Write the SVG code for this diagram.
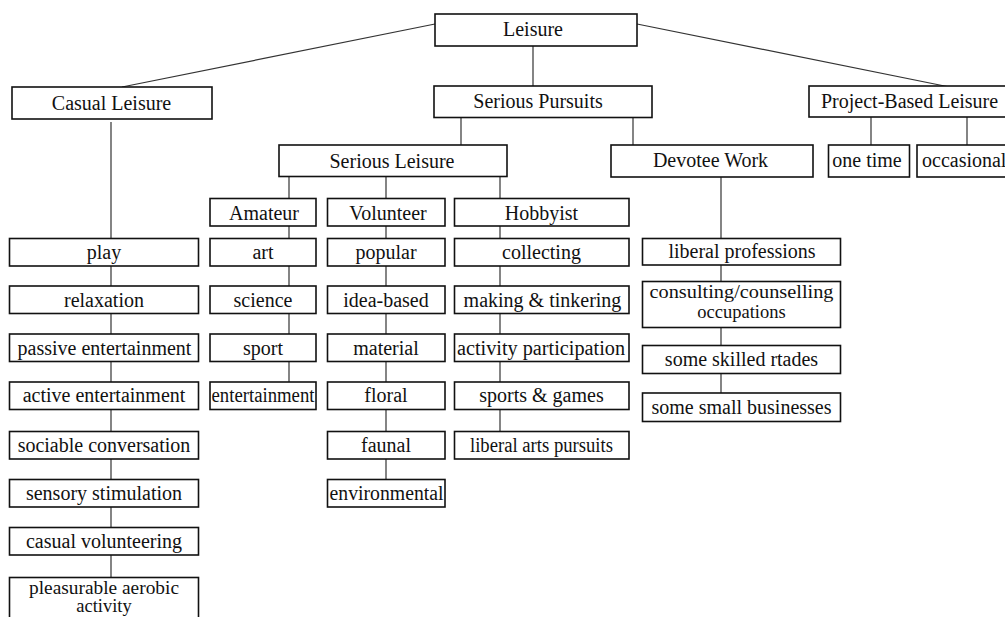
<svg xmlns="http://www.w3.org/2000/svg" width="1005" height="617" viewBox="0 0 1005 617">
<style>
.box{fill:#fff;stroke:#111;stroke-width:1.6}
.ln{stroke:#333;stroke-width:1.2;fill:none}
.t{font-family:"Liberation Serif","Times New Roman",serif;font-size:20px;fill:#111;text-anchor:middle}
.s{text-anchor:start}
.m{font-size:18.5px}
</style>
<rect width="1005" height="617" fill="#fff"/>
<g id="connectors">
<line class="ln" x1="435" y1="24" x2="122" y2="87"/>
<line class="ln" x1="637" y1="24" x2="947" y2="86.5"/>
<line class="ln" x1="533" y1="46" x2="533" y2="86"/>
<line class="ln" x1="461" y1="118" x2="461" y2="145"/>
<line class="ln" x1="633" y1="118" x2="633" y2="145"/>
<line class="ln" x1="871" y1="117" x2="871" y2="145"/>
<line class="ln" x1="967" y1="117" x2="967" y2="145"/>
<line class="ln" x1="289" y1="177" x2="289" y2="198"/>
<line class="ln" x1="386" y1="177" x2="386" y2="198"/>
<line class="ln" x1="500" y1="177" x2="500" y2="198"/>
<line class="ln" x1="111" y1="122" x2="111" y2="578"/>
<line class="ln" x1="289" y1="226" x2="289" y2="382"/>
<line class="ln" x1="386" y1="226" x2="386" y2="480"/>
<line class="ln" x1="500" y1="226" x2="500" y2="432"/>
<line class="ln" x1="721" y1="177" x2="721" y2="239"/>
<line class="ln" x1="721" y1="265" x2="721" y2="393"/>
</g>
<g id="n-leisure"><rect class="box" x="435" y="14" width="202" height="32"/><text class="t" x="533" y="36">Leisure</text></g>
<g id="n-casual"><rect class="box" x="12" y="87" width="200" height="32"/><text class="t" x="111.5" y="110">Casual Leisure</text></g>
<g id="n-serious-pursuits"><rect class="box" x="434" y="86" width="218" height="31.5"/><text class="t" x="538" y="107.5">Serious Pursuits</text></g>
<g id="n-project"><rect class="box" x="809" y="86" width="210" height="31"/><text class="t s" x="821" y="108">Project-Based Leisure</text></g>
<g id="n-serious-leisure"><rect class="box" x="279" y="145" width="228" height="31.5"/><text class="t" x="392" y="168">Serious Leisure</text></g>
<g id="n-devotee"><rect class="box" x="611" y="145" width="202" height="32"/><text class="t" x="710.5" y="167">Devotee Work</text></g>
<g id="n-onetime"><rect class="box" x="828.5" y="145" width="81" height="32"/><text class="t" x="867" y="167">one time</text></g>
<g id="n-occasional"><rect class="box" x="917" y="145" width="100" height="32"/><text class="t s" x="922" y="167">occasional</text></g>

<g id="n-amateur"><rect class="box" x="210" y="198.5" width="106" height="27.5"/><text class="t" x="264" y="219.5">Amateur</text></g>
<g id="n-art"><rect class="box" x="210" y="238.5" width="106" height="27.5"/><text class="t" x="263" y="259">art</text></g>
<g id="n-science"><rect class="box" x="210" y="286" width="106" height="27.5"/><text class="t" x="263" y="306.5">science</text></g>
<g id="n-sport"><rect class="box" x="210" y="334" width="106" height="27.5"/><text class="t" x="263" y="354.5">sport</text></g>
<g id="n-am-entertainment"><rect class="box" x="210" y="382" width="106" height="27.5"/><text class="t" x="263" y="402" textLength="103" lengthAdjust="spacingAndGlyphs">entertainment</text></g>

<g id="n-volunteer"><rect class="box" x="327.5" y="198.5" width="117.5" height="27.5"/><text class="t" x="388" y="219.5">Volunteer</text></g>
<g id="n-popular"><rect class="box" x="327.5" y="238.5" width="117.5" height="27.5"/><text class="t" x="386" y="259">popular</text></g>
<g id="n-idea"><rect class="box" x="327.5" y="286" width="117.5" height="27.5"/><text class="t" x="386" y="306.5">idea-based</text></g>
<g id="n-material"><rect class="box" x="327.5" y="334" width="117.5" height="27.5"/><text class="t" x="386" y="354.5">material</text></g>
<g id="n-floral"><rect class="box" x="327.5" y="382" width="117.5" height="27.5"/><text class="t" x="386" y="402">floral</text></g>
<g id="n-faunal"><rect class="box" x="327.5" y="431.5" width="117.5" height="27.5"/><text class="t" x="386" y="452">faunal</text></g>
<g id="n-environmental"><rect class="box" x="327.5" y="479.5" width="117.5" height="27.5"/><text class="t" x="386.5" y="500" textLength="114" lengthAdjust="spacingAndGlyphs">environmental</text></g>

<g id="n-hobbyist"><rect class="box" x="454.5" y="198.5" width="174.5" height="27.5"/><text class="t" x="541.5" y="219.5">Hobbyist</text></g>
<g id="n-collecting"><rect class="box" x="454.5" y="238.5" width="174.5" height="27.5"/><text class="t" x="541.5" y="259">collecting</text></g>
<g id="n-making"><rect class="box" x="454.5" y="286" width="174.5" height="27.5"/><text class="t" x="542.5" y="306.5">making &amp; tinkering</text></g>
<g id="n-activity"><rect class="box" x="454.5" y="334" width="174.5" height="27.5"/><text class="t" x="541" y="354.5" textLength="168" lengthAdjust="spacingAndGlyphs">activity participation</text></g>
<g id="n-sports"><rect class="box" x="454.5" y="382" width="174.5" height="27.5"/><text class="t" x="541.5" y="402">sports &amp; games</text></g>
<g id="n-liberal-arts"><rect class="box" x="454.5" y="431.5" width="174.5" height="27.5"/><text class="t" x="541.5" y="452" textLength="143" lengthAdjust="spacingAndGlyphs">liberal arts pursuits</text></g>

<g id="n-play"><rect class="box" x="9.5" y="238.5" width="189" height="27.5"/><text class="t" x="104" y="259">play</text></g>
<g id="n-relaxation"><rect class="box" x="9.5" y="286" width="189" height="27.5"/><text class="t" x="104" y="306.5">relaxation</text></g>
<g id="n-passive"><rect class="box" x="9.5" y="334" width="189" height="27.5"/><text class="t" x="104.5" y="354.5">passive entertainment</text></g>
<g id="n-active"><rect class="box" x="9.5" y="382" width="189" height="27.5"/><text class="t" x="104" y="402">active entertainment</text></g>
<g id="n-sociable"><rect class="box" x="9.5" y="431.5" width="189" height="27.5"/><text class="t" x="104" y="452">sociable conversation</text></g>
<g id="n-sensory"><rect class="box" x="9.5" y="479.5" width="189" height="27.5"/><text class="t" x="104" y="500">sensory stimulation</text></g>
<g id="n-casual-vol"><rect class="box" x="9.5" y="527.5" width="189" height="27.5"/><text class="t" x="104" y="548">casual volunteering</text></g>
<g id="n-aerobic"><rect class="box" x="9.5" y="577.5" width="189" height="60"/><text class="t m" x="104" y="594" textLength="150" lengthAdjust="spacingAndGlyphs">pleasurable aerobic</text><text class="t m" x="104" y="612">activity</text></g>

<g id="n-liberal-prof"><rect class="box" x="642.5" y="238.5" width="198" height="26.5"/><text class="t" x="742" y="258">liberal professions</text></g>
<g id="n-consulting"><rect class="box" x="642.5" y="281.5" width="198" height="46"/><text class="t m" x="741.5" y="297.5" textLength="184" lengthAdjust="spacingAndGlyphs">consulting/counselling</text><text class="t m" x="741.5" y="317.5">occupations</text></g>
<g id="n-skilled"><rect class="box" x="642.5" y="345.5" width="198" height="28"/><text class="t" x="741.5" y="366">some skilled rtades</text></g>
<g id="n-small"><rect class="box" x="642.5" y="393" width="198" height="28.5"/><text class="t" x="741.5" y="414">some small businesses</text></g>
</svg>
